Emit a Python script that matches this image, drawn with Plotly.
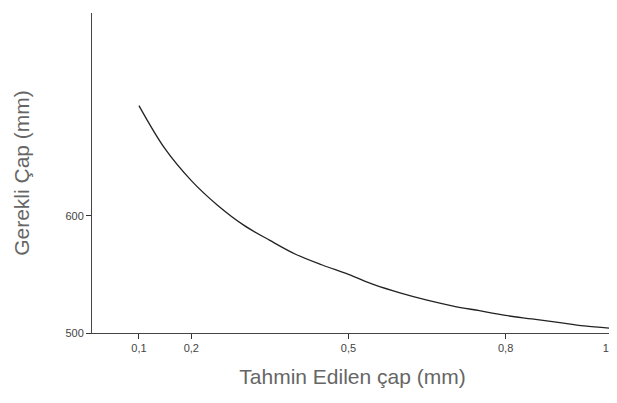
import plotly.graph_objects as go

# Data
tahmin_cap = [0.1, 0.15, 0.2, 0.25, 0.3, 0.35, 0.4, 0.45, 0.5, 0.55, 0.6, 0.65, 0.7,
              0.75, 0.8, 0.85, 0.9, 0.95, 1.0]
gerekli_cap = [694, 657, 630, 609, 592, 579, 567, 558, 550, 541, 534, 528, 523,
               519, 515, 512, 509, 506, 504]

x_tick_vals = [0.1, 0.2, 0.5, 0.8, 1.0]
x_tick_text = ["0,1", "0,2", "0,5", "0,8", "1,0"]
y_tick_vals = [500, 600]
y_tick_text = ["500", "600"]

fig = go.Figure()
fig.add_trace(go.Scatter(
    x=tahmin_cap, y=gerekli_cap, mode="lines",
    line=dict(color="#222222", width=1.3, shape="spline", smoothing=1.0),
    showlegend=False, hoverinfo="skip",
))

fig.update_layout(
    width=617, height=403,
    margin=dict(l=84, r=12, t=5, b=78),
    paper_bgcolor="white", plot_bgcolor="white",
    font=dict(family="Liberation Sans, Arial, sans-serif", color="#333333"),
)

fig.update_xaxes(
    range=[0.0104, 1.005],
    tickvals=x_tick_vals, ticktext=x_tick_text,
    ticks="outside", ticklen=5, tickcolor="#333333", tickwidth=1,
    tickfont=dict(size=11, color="#444444"),
    showline=True, linecolor="#444444", linewidth=1,
    showgrid=False, zeroline=False,
    title=dict(text="Tahmin Edilen çap (mm)", font=dict(size=21, color="#666666"), standoff=16),
)
fig.update_yaxes(
    range=[500, 773],
    tickvals=y_tick_vals, ticktext=y_tick_text,
    ticks="outside", ticklen=5, tickcolor="#333333", tickwidth=1,
    tickfont=dict(size=11, color="#444444"),
    showline=True, linecolor="#444444", linewidth=1,
    showgrid=False, zeroline=False,
    title=dict(text="Gerekli Çap (mm)", font=dict(size=21, color="#666666"), standoff=30),
)

fig.write_html("out.html")
